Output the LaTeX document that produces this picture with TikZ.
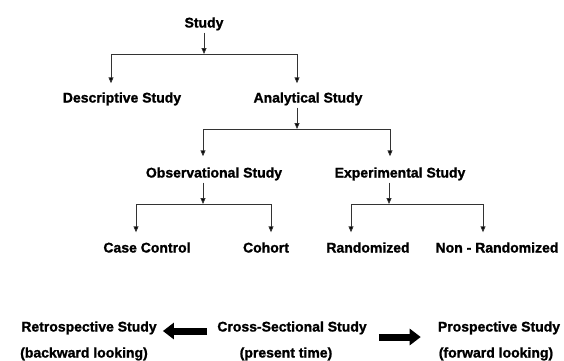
\documentclass[tikz,border=0pt]{standalone}
\usepackage{fontspec}
\setmainfont{Liberation Sans}[BoldFeatures={FakeBold=1.3}]
\usetikzlibrary{arrows.meta}
\begin{document}
	\begin{tikzpicture}[x=1pt, y=-1pt,
		lbl/.style = {font=\fontsize{14}{16}\selectfont\bfseries, text height=10pt, text depth=3pt, inner xsep=0pt, inner ysep=2pt},
		tip/.style = {draw=black!80, line width=0.9pt, -{Triangle[length=6pt,width=5pt,fill=black]}},
		fat/.style = {line width=7pt, -{Triangle[length=11pt,width=16pt]}}]
	\useasboundingbox (0,0) rectangle (564,360);
	\node[lbl] (study) at (204,24) {Study};
	\node[lbl] (desc) at (122,99) {Descriptive Study};
	\node[lbl] (anal) at (308,99) {Analytical Study};
	\node[lbl] (obs) at (214,174) {Observational Study};
	\node[lbl] (exp) at (400,174) {Experimental Study};
	\node[lbl] (cc) at (147,249) {Case Control};
	\node[lbl] (cohort) at (266,249) {Cohort};
	\node[lbl] (rand) at (368,249) {Randomized};
	\node[lbl] (nonrand) at (497,249) {Non - Randomized};
	\coordinate (b1) at (204,54);
	\coordinate (b2) at (297,129);
	\coordinate (b3) at (203,204);
	\coordinate (b4) at (389,204);
	\draw[tip] (study) -- (b1);
	\draw[tip] (b1) -| ([shift={(-11pt,7pt)}]desc.north);
	\draw[tip] (b1) -| ([shift={(-11pt,7pt)}]anal.north);
	\draw[tip] ([xshift=-11pt]anal.south) -- (b2);
	\draw[tip] (b2) -| ([shift={(-11pt,9pt)}]obs.north);
	\draw[tip] (b2) -| ([shift={(-10pt,9pt)}]exp.north);
	\draw[tip] ([xshift=-11pt]obs.south) -- (b3);
	\draw[tip] (b3) -| ([shift={(-11pt,8pt)}]cc.north);
	\draw[tip] (b3) -| ([shift={(5pt,8pt)}]cohort.north);
	\draw[tip] ([xshift=-11pt]exp.south) -- (b4);
	\draw[tip] (b4) -| ([shift={(-17pt,8pt)}]rand.north);
	\draw[tip] (b4) -| ([shift={(-14pt,8pt)}]nonrand.north);
	% time direction
	\node[lbl] (retro) at (89,328) {Retrospective Study};
	\node[lbl] (back) at (84,354) {(backward looking)};
	\node[lbl] (cross) at (292,328) {Cross-Sectional Study};
	\node[lbl] (present) at (286,354) {(present time)};
	\node[lbl] (prosp) at (499,328) {Prospective Study};
	\node[lbl] (fwd) at (496,354) {(forward looking)};
	\draw[fat, shorten <=10pt, shorten >=6pt] ([yshift=-3pt]cross.west) -- ([yshift=-3pt]retro.east);
	\draw[fat, shorten <=12pt, shorten >=17pt] ([yshift=-9pt]cross.east) -- ([yshift=-9pt]prosp.west);
	\end{tikzpicture}
\end{document}
